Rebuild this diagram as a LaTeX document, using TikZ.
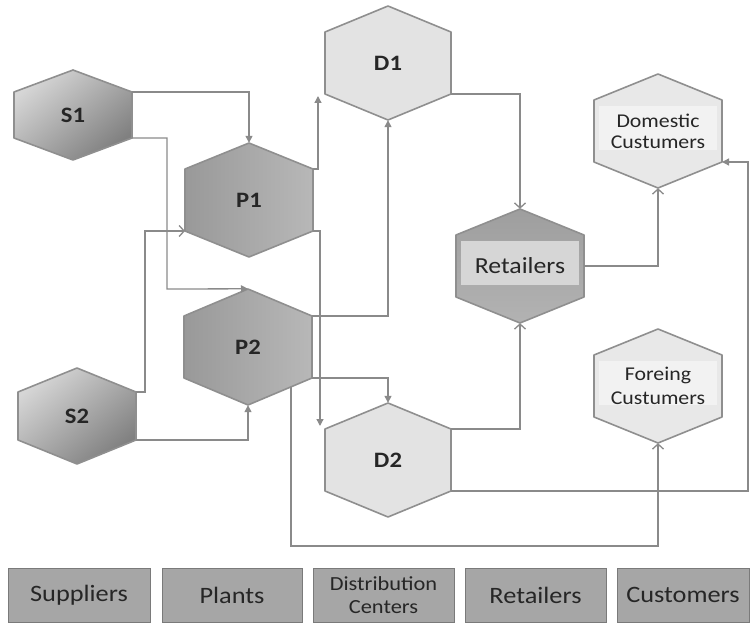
\documentclass[tikz,border=0pt]{standalone}
\usepackage{fontspec}
\setmainfont{Carlito}[FakeStretch=1.12]
\usetikzlibrary{arrows.meta,calc}
\definecolor{edgegray}{HTML}{8F8F8F}
\definecolor{linegray}{HTML}{8A8A8A}
\definecolor{txt}{HTML}{262626}
\definecolor{boxfill}{HTML}{A6A6A6}
\definecolor{boxedge}{HTML}{7A7A7A}
\newcommand\hexnode[9]{%
  \path[#7] (#2-#4,#3-#6) -- (#2,#3-#5) -- (#2+#4,#3-#6) -- (#2+#4,#3+#6) -- (#2,#3+#5) -- (#2-#4,#3+#6) -- cycle;
  \path[#9] (#2-#4+5,#3-25) rectangle (#2+#4-5,#3+19);
  \node[inner sep=0pt, minimum width={2*#4 pt}, minimum height={2*#5 pt}, text=txt, align=center] (#1) at (#2,#3) {#8};
  \coordinate (#1-ne) at (#2+#4,#3-#6);
  \coordinate (#1-se) at (#2+#4,#3+#6);
  \coordinate (#1-nw) at (#2-#4,#3-#6);
  \coordinate (#1-sw) at (#2-#4,#3+#6);
}
\newcommand\hb{\fontsize{22}{24}\selectfont\bfseries}
\newcommand\cf{\fontsize{19.5}{23}\selectfont}
\tikzset{
  hexborder/.style={draw=edgegray, line width=1.6pt, line join=round},
  sfill/.style={hexborder, top color=black!16, bottom color=black!50, shading angle=40},
  pfill/.style={hexborder, left color=black!40, right color=black!28},
  dfill/.style={hexborder, fill=black!11},
  rfill/.style={hexborder, top color=black!38, bottom color=black!30},
  cfill/.style={hexborder, fill=black!9},
  rband/.style={fill=black!16},
  cband/.style={fill=black!5},
  noband/.style={draw=none},
  conn/.style={draw=linegray, line width=1.3pt},
  fa/.style={conn, -{Triangle[length=7pt,width=7pt]}},
  oa/.style={conn, -{Straight Barb[length=5pt,width=11pt]}},
  box/.style={draw=boxedge, fill=boxfill, line width=1pt, text=txt, minimum height=54pt, inner sep=0pt, align=center, font=\fontsize{23.5}{25}\selectfont}
}
\begin{document}
\begin{tikzpicture}[x=1pt,y=-1pt]
\useasboundingbox (0,0) rectangle (750,623);
% hexagons
\hexnode{S1}{73}{115}{59}{45}{23}{sfill}{\hb S1}{noband}
\hexnode{S2}{77}{416}{59}{48}{24}{sfill}{\hb S2}{noband}
\hexnode{P1}{249}{200}{64}{57}{31}{pfill}{\hb P1}{noband}
\hexnode{P2}{248}{347}{64}{58}{31}{pfill}{\hb P2}{noband}
\hexnode{D1}{388}{63}{63}{57}{31}{dfill}{\hb D1}{noband}
\hexnode{D2}{388}{460}{63}{57}{31}{dfill}{\hb D2}{noband}
\hexnode{Ret}{520}{266}{64}{57}{31}{rfill}{\fontsize{23}{25}\selectfont Retailers}{rband}
\hexnode{Dom}{658}{131}{64}{57}{31}{cfill}{\cf Domestic\\[7pt]\cf Custumers}{cband}
\hexnode{For}{658}{386}{64}{57}{31}{cfill}{\cf Foreing\\[7pt]\cf Custumers}{cband}
% helper coordinates
\coordinate (k1) at (167,289);
\coordinate (k2) at (145,300);
\coordinate (d1in) at (318,96);
\coordinate (d2in) at (320,426);
\coordinate (rr) at (748,300);
\coordinate (p2o) at (291,387);
\coordinate (bb) at (450,546);
% connectors
\draw[fa] (S1-ne) -| (P1.north);
\draw[fa] (S1-se) -| (k1) -- (P2.north);
\draw[oa] (S2-ne) -| (k2) |- (P1-sw);
\draw[fa] (S2-se) -| (P2.south);
\draw[fa] (P1-ne) -| (d1in);
\draw[fa] (P1-se) -| (d2in);
\draw[fa] (P2-ne) -| (D1.south);
\draw[fa] (P2-se) -| (D2.north);
\draw[oa] (D1-se) -| (Ret.north);
\draw[oa] (D2-ne) -| (Ret.south);
\draw[oa] (Ret.east) -| (Dom.south);
\draw[fa] (D2-se) -| (rr) |- (Dom-se);
\draw[oa] (p2o) |- (bb) -| (For.south);
% bottom category boxes
\node[box, minimum width=142pt] (bs) at (79,595) {Suppliers};
\node[box, minimum width=140pt] (bp) at (232,595) {Plants};
\node[box, minimum width=141pt, font=\fontsize{20}{22}\selectfont] (bd) at (383.5,595) {Distribution\\[1pt]Centers};
\node[box, minimum width=141pt] (br) at (535.5,595) {Retailers};
\node[box, minimum width=132pt] (bc) at (683,595) {Customers};
\end{tikzpicture}
\end{document}
